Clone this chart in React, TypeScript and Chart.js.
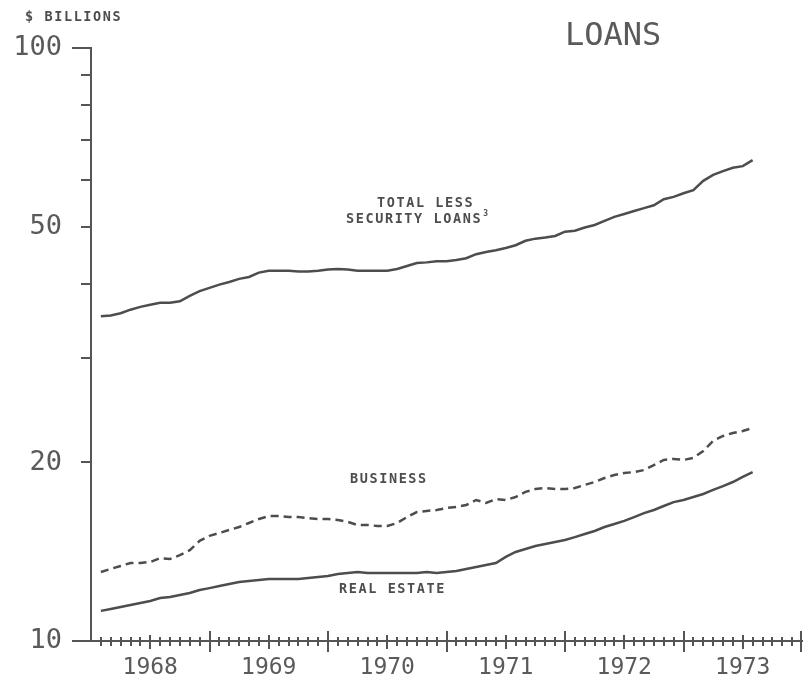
import React, { useEffect, useRef } from "react";
import { Chart, registerables } from "chart.js";

Chart.register(...registerables);

// ---- data ----
const BASE_YEAR = 1968;
const FIRST_PERIOD = "1968-02";
const AXIS_MONTHS = 72; // Jan 1968 .. Jan 1974

const totalLessSecurity = [
  35.3, 35.4, 35.7, 36.2, 36.6, 36.9, 37.2, 37.2, 37.4, 38.2, 38.9, 39.4,
  39.9, 40.3, 40.8, 41.1, 41.8, 42.1, 42.1, 42.1, 42.0, 42.0, 42.1, 42.3,
  42.4, 42.3, 42.1, 42.1, 42.1, 42.1, 42.4, 42.9, 43.4, 43.5, 43.7, 43.7,
  43.9, 44.2, 44.9, 45.3, 45.6, 46.0, 46.5, 47.3, 47.7, 47.9, 48.2, 49.0,
  49.2, 49.8, 50.3, 51.1, 51.9, 52.5, 53.1, 53.7, 54.3, 55.6, 56.1, 56.9,
  57.6, 59.7, 61.1, 62.0, 62.8, 63.2, 64.7,
];

const business = [
  13.07, 13.23, 13.38, 13.54, 13.54, 13.59, 13.8, 13.75, 13.96, 14.23, 14.75, 15.04,
  15.21, 15.39, 15.57, 15.81, 16.06, 16.24, 16.24, 16.18, 16.18, 16.12, 16.06, 16.06,
  16.0, 15.88, 15.69, 15.69, 15.63, 15.63, 15.81, 16.18, 16.5, 16.57, 16.63, 16.76,
  16.82, 16.96, 17.29, 17.09, 17.35, 17.29, 17.49, 17.84, 18.04, 18.11, 18.04, 18.04,
  18.11, 18.33, 18.54, 18.83, 19.05, 19.2, 19.27, 19.42, 19.8, 20.2, 20.28, 20.2,
  20.36, 20.91, 21.75, 22.17, 22.43, 22.6, 22.87,
];

const realEstate = [
  11.24, 11.32, 11.41, 11.5, 11.59, 11.68, 11.82, 11.86, 11.96, 12.05, 12.19, 12.28,
  12.38, 12.48, 12.57, 12.62, 12.67, 12.72, 12.72, 12.72, 12.72, 12.77, 12.82, 12.87,
  12.97, 13.02, 13.07, 13.02, 13.02, 13.02, 13.02, 13.02, 13.02, 13.07, 13.02, 13.07,
  13.12, 13.23, 13.33, 13.43, 13.54, 13.86, 14.13, 14.29, 14.46, 14.57, 14.69, 14.8,
  14.97, 15.15, 15.33, 15.57, 15.75, 15.94, 16.18, 16.43, 16.63, 16.89, 17.15, 17.29,
  17.49, 17.7, 17.98, 18.25, 18.54, 18.91, 19.27,
];

const yTickValues = [10, 20, 30, 40, 50, 60, 70, 80, 90, 100];
const yLabeledTicks = [10, 20, 50, 100];

const chartTitle = "LOANS";
const unitLabel = "$ BILLIONS";
const seriesLabels = {
  total: ["TOTAL LESS", "SECURITY LOANS"],
  business: "BUSINESS",
  realEstate: "REAL ESTATE",
};

// period labels, monthly from FIRST_PERIOD
const periods: string[] = (() => {
  const [y0, m0] = FIRST_PERIOD.split("-").map(Number);
  const out: string[] = [];
  for (let i = 0; i < totalLessSecurity.length; i++) {
    const t = (y0 * 12 + (m0 - 1)) + i;
    const yy = Math.floor(t / 12);
    const mm = (t % 12) + 1;
    out.push(`${yy}-${String(mm).padStart(2, "0")}`);
  }
  return out;
})();

const periodToX = (p: string) => {
  const [yy, mm] = p.split("-").map(Number);
  return (yy - BASE_YEAR) * 12 + (mm - 1);
};

const toPoints = (vals: number[]) =>
  vals.map((v, i) => ({ x: periodToX(periods[i]), y: v }));

const INK = "#4d4d4d";
const AXIS = "#555555";
const MONO = '"DejaVu Sans Mono", monospace';

const decorPlugin = {
  id: "decor",
  afterDraw(chart: any) {
    const { ctx } = chart;
    const x = chart.scales.x;
    const y = chart.scales.y;
    const y0 = y.getPixelForValue(10);
    ctx.save();
    ctx.strokeStyle = AXIS;
    ctx.lineWidth = 2;
    ctx.lineCap = "butt";
    // month ticks on x axis (crossing the axis)
    for (let m = 1; m <= AXIS_MONTHS; m++) {
      const px = Math.round(x.getPixelForValue(m)) - (m === AXIS_MONTHS ? 1 : 0);
      let up = 4, down = 5;
      if (m % 12 === 0) { up = 10; down = 11; }
      else if (m % 6 === 0) { up = 6; down = 8; }
      ctx.beginPath();
      ctx.moveTo(px, y0 - up);
      ctx.lineTo(px, y0 + down);
      ctx.stroke();
    }
    // longer ticks at 10 and 100
    [10, 100].forEach((v) => {
      const py = y.getPixelForValue(v);
      ctx.beginPath();
      ctx.moveTo(72, py);
      ctx.lineTo(x.left, py);
      ctx.stroke();
    });

    // texts
    ctx.fillStyle = INK;
    ctx.textAlign = "left";
    ctx.textBaseline = "alphabetic";
    const anyCtx = ctx as any;
    ctx.font = `bold 13.5px ${MONO}`;
    anyCtx.letterSpacing = "1.6px";
    ctx.fillText(unitLabel, 25, 21);
    ctx.fillText(seriesLabels.total[0], 377, 207);
    ctx.fillText(seriesLabels.total[1], 346, 223);
    const w = ctx.measureText(seriesLabels.total[1]).width;
    ctx.font = `bold 8px ${MONO}`;
    anyCtx.letterSpacing = "0px";
    ctx.fillText("3", 346 + w + 1, 216);
    ctx.font = `bold 13.5px ${MONO}`;
    anyCtx.letterSpacing = "1.6px";
    ctx.fillText(seriesLabels.business, 350, 483);
    ctx.fillText(seriesLabels.realEstate, 339, 593);

    anyCtx.letterSpacing = "0px";
    ctx.fillStyle = "#5a5a5a";
    ctx.font = `32px ${MONO}`;
    ctx.fillText(chartTitle, 565, 45);
    ctx.restore();
  },
};

export default function App() {
  const ref = useRef<HTMLCanvasElement | null>(null);

  useEffect(() => {
    if (!ref.current) return;
    const chart = new Chart(ref.current, {
      type: "line",
      data: {
        datasets: [
          {
            label: "Total less security loans",
            data: toPoints(totalLessSecurity),
            borderColor: INK,
            borderWidth: 2.5,
            pointRadius: 0,
            tension: 0,
          },
          {
            label: "Business",
            data: toPoints(business),
            borderColor: INK,
            borderWidth: 2.5,
            borderDash: [8, 5],
            pointRadius: 0,
            tension: 0,
          },
          {
            label: "Real estate",
            data: toPoints(realEstate),
            borderColor: INK,
            borderWidth: 2.5,
            pointRadius: 0,
            tension: 0,
          },
        ],
      },
      options: {
        animation: false,
        responsive: false,
        maintainAspectRatio: false,
        layout: { padding: { top: 48, right: 1, left: 0, bottom: 0 } },
        plugins: {
          legend: { display: false },
          tooltip: { enabled: false },
          title: { display: false },
        },
        scales: {
          x: {
            type: "linear",
            position: "bottom",
            min: 0,
            max: AXIS_MONTHS,
            afterFit: (s: any) => { s.height = 39; },
            afterBuildTicks: (s: any) => {
              const t = [];
              for (let m = 0; m <= AXIS_MONTHS; m++) t.push({ value: m });
              s.ticks = t;
            },
            ticks: {
              autoSkip: false,
              maxRotation: 0,
              minRotation: 0,
              padding: 0,
              color: "#5a5a5a",
              font: { family: MONO, size: 23 },
              callback: (v: any) =>
                Number(v) % 12 === 6 ? String(BASE_YEAR + Math.floor(Number(v) / 12)) : "",
            },
            grid: { display: false, drawTicks: true, tickLength: 13 },
            border: { display: true, color: AXIS, width: 2 },
          },
          y: {
            type: "logarithmic",
            position: "left",
            min: 10,
            max: 100,
            afterFit: (s: any) => { s.width = 91; },
            afterBuildTicks: (s: any) => {
              s.ticks = yTickValues.map((v) => ({ value: v }));
            },
            ticks: {
              autoSkip: false,
              padding: 19,
              color: "#5a5a5a",
              font: { family: MONO, size: 27 },
              callback: (v: any) => (yLabeledTicks.includes(Number(v)) ? String(v) : ""),
            },
            grid: {
              display: true,
              drawOnChartArea: false,
              drawTicks: true,
              tickLength: 10,
              color: AXIS,
              lineWidth: 2,
            },
            border: { display: true, color: AXIS, width: 2 },
          },
        },
      },
      plugins: [decorPlugin],
    });
    return () => chart.destroy();
  }, []);

  return (
    <div style={{ position: "absolute", left: 0, top: 0, width: 803, height: 680, background: "#fff" }}>
      <canvas ref={ref} width={803} height={680} style={{ width: 803, height: 680, display: "block" }} />
    </div>
  );
}
